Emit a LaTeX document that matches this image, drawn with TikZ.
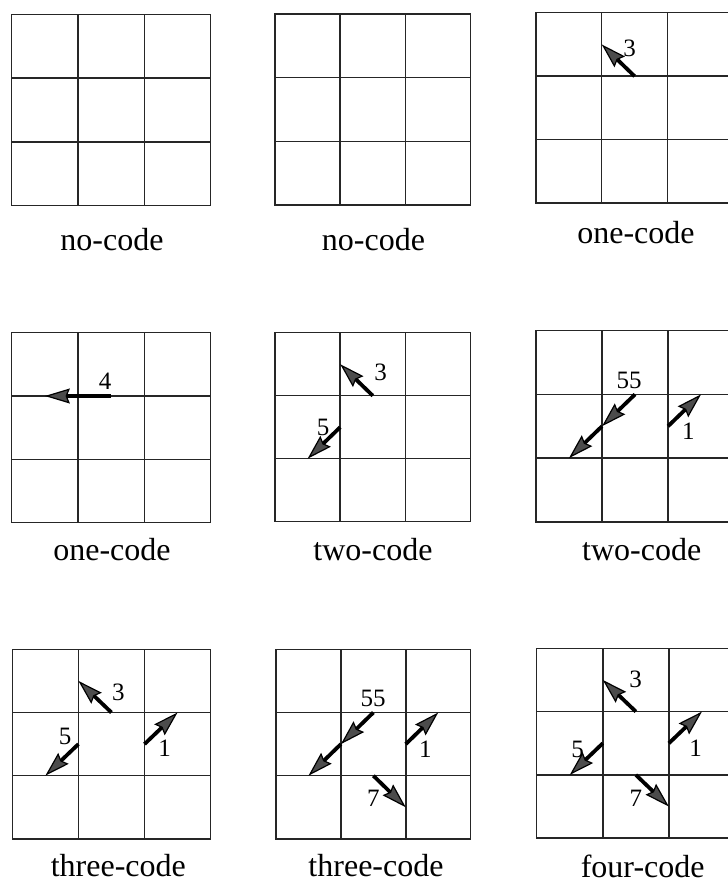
\documentclass[tikz,border=0pt]{standalone}
\usepackage{fontspec}
\setmainfont{Liberation Serif}
\usetikzlibrary{arrows.meta}

\begin{document}
\begin{tikzpicture}[
    x=1pt, y=-1pt,
    cellgrid/.style={draw=black!85, line width=1.5pt},
    code/.style={-{Stealth[length=25pt, width=15pt, inset=3pt, line width=1.2pt, fill=black!70]}, line width=3.8pt, draw=black},
    codenum/.style={font=\fontsize{25}{30}\selectfont, inner sep=0pt},
    caption/.style={font=\fontsize{32}{38}\selectfont, anchor=base, inner sep=0pt}
]
    \useasboundingbox (0,0) rectangle (728,886);

    % the nine 3x3 grids: name/left/top/cell width/cell height
    \foreach \g/\gx/\gy/\cw/\ch in {g1/11.7/14.3/66.3/63.8, g2/275/14/65.2/63.7, g3/536/12.7/65.7/63.5,
                                     g4/11.7/332.7/66.3/63.3, g5/275/332.7/65.2/63, g6/536/330.7/66/63.7,
                                     g7/12.3/649.3/66.1/63.2, g8/276/649.3/64.9/63.2, g9/536.7/648.3/66.1/63.3} {
        \draw[cellgrid] (\gx,\gy) rectangle ++(3*\cw,3*\ch);
        \foreach \k in {1,2} {
            \draw[cellgrid] (\gx+\k*\cw,\gy) -- ++(0,3*\ch);
            \draw[cellgrid] (\gx,\gy+\k*\ch) -- ++(3*\cw,0);
        }
        % half-cell points, used as ends of the codes
        \foreach \i in {0,...,6} {
            \foreach \j in {0,...,6} {
                \coordinate (\g-\i\j) at (\gx+\i*\cw/2,\gy+\j*\ch/2);
            }
        }
    }

    % codes
    \draw[code] (g3-32) -- (g3-21);
    \node[codenum] (g3n3) at (629.7,48.3) {3};

    \draw[code] (g4-32) -- (g4-12);
    \node[codenum] (g4n4) at (105,381.7) {4};

    \draw[code] (g5-32) -- (g5-21);
    \node[codenum] (g5n3) at (380.5,372.5) {3};
    \draw[code] (g5-23) -- (g5-14);
    \node[codenum] (g5n5) at (323,427.5) {5};

    \draw[code] (g6-32) -- (g6-23);
    \draw[code] (g6-23) -- (g6-14);
    \node[codenum] (g6n55) at (629,380.8) {55};
    \draw[code] (g6-43) -- (g6-52);
    \node[codenum] (g6n1) at (688.3,430.8) {1};

    \draw[code] (g7-32) -- (g7-21);
    \node[codenum] (g7n3) at (118.3,692) {3};
    \draw[code] (g7-23) -- (g7-14);
    \node[codenum] (g7n5) at (65,736.2) {5};
    \draw[code] (g7-43) -- (g7-52);
    \node[codenum] (g7n1) at (164.7,748.7) {1};

    \draw[code] (g8-32) -- (g8-23);
    \draw[code] (g8-23) -- (g8-14);
    \node[codenum] (g8n55) at (373,698) {55};
    \draw[code] (g8-43) -- (g8-52);
    \node[codenum] (g8n1) at (425.3,749.2) {1};
    \draw[code] (g8-34) -- (g8-45);
    \node[codenum] (g8n7) at (373.3,798.3) {7};

    \draw[code] (g9-32) -- (g9-21);
    \node[codenum] (g9n3) at (635.5,679.2) {3};
    \draw[code] (g9-23) -- (g9-14);
    \node[codenum] (g9n5) at (577.5,749.2) {5};
    \draw[code] (g9-43) -- (g9-52);
    \node[codenum] (g9n1) at (695.5,748.3) {1};
    \draw[code] (g9-34) -- (g9-45);
    \node[codenum] (g9n7) at (635.8,798.3) {7};

    % captions
    \node[caption] (cap1) at (112,250) {no-code};
    \node[caption] (cap2) at (373.5,250) {no-code};
    \node[caption] (cap3) at (636,243) {one-code};
    \node[caption] (cap4) at (112,560) {one-code};
    \node[caption] (cap5) at (373,560) {two-code};
    \node[caption] (cap6) at (641.7,560) {two-code};
    \node[caption] (cap7) at (118.3,876) {three-code};
    \node[caption] (cap8) at (376,876) {three-code};
    \node[caption] (cap9) at (642.7,877) {four-code};
\end{tikzpicture}
\end{document}
